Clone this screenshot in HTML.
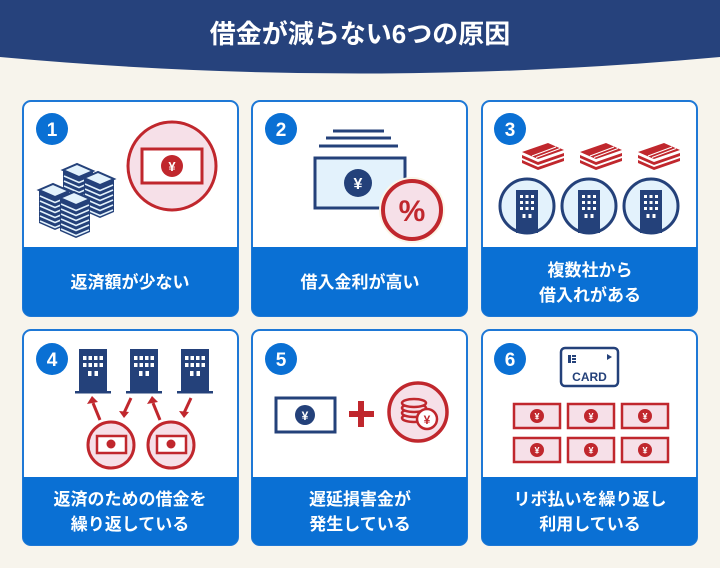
<!DOCTYPE html>
<html><head><meta charset="utf-8"><style>
html,body{margin:0;padding:0;background:#f7f4ec;}
svg{display:block}
text{font-family:"Liberation Sans","Noto Sans CJK JP",sans-serif;font-weight:bold}
</style></head><body>
<svg width="720" height="568" viewBox="0 0 720 568" xmlns="http://www.w3.org/2000/svg">
<defs>
<g id="bld"><rect x="-14" y="-22" width="28" height="43" fill="#24417a"/><rect x="-18" y="20" width="36" height="2.5" fill="#24417a"/>
<g fill="#fff"><rect x="-10" y="-15" width="3.5" height="4"/><rect x="-4.5" y="-15" width="3.5" height="4"/><rect x="1" y="-15" width="3.5" height="4"/><rect x="6.5" y="-15" width="3.5" height="4"/>
<rect x="-10" y="-8" width="3.5" height="4"/><rect x="-4.5" y="-8" width="3.5" height="4"/><rect x="1" y="-8" width="3.5" height="4"/><rect x="6.5" y="-8" width="3.5" height="4"/>
<rect x="-5" y="0" width="3.5" height="5"/><rect x="1.5" y="0" width="3.5" height="5"/></g></g>
<g id="bundle"><g fill="#c0272d"><path d="M-20 -2 L6 -11 L22 -4 L-4 5 Z"/><path d="M-20 1 L-4 8 L22 -1 L22 2 L-4 11 L-20 4Z"/><path d="M-20 6 L-4 13 L22 4 L22 7 L-4 16 L-20 9Z"/></g><path d="M-10 2 L14 -7 M-6 3.5 L18 -5.5" stroke="#fff" stroke-width="1"/></g>
<g id="ybill"><rect x="-23" y="-12" width="46" height="24" fill="#f6e0e8" stroke="#c0272d" stroke-width="2.5"/><circle r="7" fill="#c0272d"/><text y="3.5" font-size="9" fill="#fff" text-anchor="middle">¥</text></g>
<g id="pile">
<path d="M0 0 L16 7 L16 40 L0 33Z" fill="#24417a"/><path d="M16 7 L30 1 L30 34 L16 40Z" fill="#24417a"/>
<path d="M0 0 L14 -6 L30 1 L16 7Z" fill="#e3f2fc" stroke="#24417a" stroke-width="2"/>
<path d="M1 6 L16 12.5 L29 7 M1 11 L16 17.5 L29 12 M1 16 L16 22.5 L29 17 M1 21 L16 27.5 L29 22 M1 26 L16 32.5 L29 27 M1 31 L16 37.5 L29 32" stroke="#e3f2fc" stroke-width="1.5" fill="none"/>
</g>
</defs>
<path d="M0 0 H720 V57 Q360 90 0 57 Z" fill="#26427c"/>
<text x="360" y="43" font-size="26" fill="#fff" text-anchor="middle">借金が減らない6つの原因</text>

<g stroke="#1e78d6" stroke-width="2">
<rect x="23" y="101" width="215" height="215" rx="8" fill="#fff"/>
<rect x="252" y="101" width="215" height="215" rx="8" fill="#fff"/>
<rect x="482" y="101" width="215" height="215" rx="8" fill="#fff"/>
<rect x="23" y="330" width="215" height="215" rx="8" fill="#fff"/>
<rect x="252" y="330" width="215" height="215" rx="8" fill="#fff"/>
<rect x="482" y="330" width="215" height="215" rx="8" fill="#fff"/>
</g>
<g fill="#0a70d4">
<path d="M23 247 H238 V308 a8 8 0 0 1 -8 8 H31 a8 8 0 0 1 -8 -8Z"/>
<path d="M252 247 H467 V308 a8 8 0 0 1 -8 8 H260 a8 8 0 0 1 -8 -8Z"/>
<path d="M482 247 H697 V308 a8 8 0 0 1 -8 8 H490 a8 8 0 0 1 -8 -8Z"/>
<path d="M23 477 H238 V537 a8 8 0 0 1 -8 8 H31 a8 8 0 0 1 -8 -8Z"/>
<path d="M252 477 H467 V537 a8 8 0 0 1 -8 8 H260 a8 8 0 0 1 -8 -8Z"/>
<path d="M482 477 H697 V537 a8 8 0 0 1 -8 8 H490 a8 8 0 0 1 -8 -8Z"/>
<circle cx="52" cy="129" r="16"/><circle cx="281" cy="129" r="16"/><circle cx="510" cy="129" r="16"/>
<circle cx="52" cy="359" r="16"/><circle cx="281" cy="359" r="16"/><circle cx="510" cy="359" r="16"/>
</g>
<g fill="#fff" font-size="19" text-anchor="middle">
<text x="52" y="136">1</text><text x="281" y="136">2</text><text x="510" y="136">3</text>
<text x="52" y="366">4</text><text x="281" y="366">5</text><text x="510" y="366">6</text>
</g>
<g fill="#fff" font-size="17" text-anchor="middle">
<text x="130" y="288">返済額が少ない</text>
<text x="360" y="288">借入金利が高い</text>
<text x="590" y="276">複数社から</text><text x="590" y="301">借入れがある</text>
<text x="130" y="505">返済のための借金を</text><text x="130" y="530">繰り返している</text>
<text x="360" y="505">遅延損害金が</text><text x="360" y="530">発生している</text>
<text x="590" y="505">リボ払いを繰り返し</text><text x="590" y="530">利用している</text>
</g>

<!-- card1 -->
<use href="#pile" x="63" y="170"/><use href="#pile" x="84" y="178"/>
<use href="#pile" x="39" y="190"/><use href="#pile" x="60" y="198"/>
<circle cx="172" cy="166" r="44" fill="#f6e0e8" stroke="#c0272d" stroke-width="3"/>
<rect x="142" y="149" width="60" height="34" fill="#fff" stroke="#c0272d" stroke-width="3"/>
<circle cx="172" cy="166" r="11" fill="#c0272d"/><text x="172" y="171" font-size="13" fill="#fff" text-anchor="middle">¥</text>

<!-- card2 -->
<path d="M333 131 H384 M326 138 H391 M319 146 H398" stroke="#24417a" stroke-width="3"/>
<rect x="315" y="158" width="90" height="50" fill="#e3f2fc" stroke="#24417a" stroke-width="3"/>
<circle cx="358" cy="183" r="14" fill="#24417a"/><text x="358" y="189" font-size="16" fill="#fff" text-anchor="middle">¥</text>
<circle cx="412" cy="210" r="33" fill="#fbf6e8"/>
<circle cx="412" cy="210" r="29" fill="#f6e0e8" stroke="#c0272d" stroke-width="4"/>
<text x="412" y="221" font-size="30" fill="#c0272d" text-anchor="middle">%</text>

<!-- card3 -->
<use href="#bundle" x="542" y="154"/><use href="#bundle" x="600" y="154"/><use href="#bundle" x="658" y="154"/>
<g fill="#e3f2fc" stroke="#24417a" stroke-width="3">
<circle cx="527" cy="206" r="27"/><circle cx="589" cy="206" r="27"/><circle cx="651" cy="206" r="27"/></g>
<g fill="#24417a">
<path d="M516 190 H538 V233 H516Z"/><path d="M578 190 H600 V233 H578Z"/><path d="M640 190 H662 V233 H640Z"/></g>
<g fill="#fff">
<g id="w3"><rect x="520" y="195" width="3" height="3"/><rect x="525.5" y="195" width="3" height="3"/><rect x="531" y="195" width="3" height="3"/><rect x="520" y="201" width="3" height="3"/><rect x="525.5" y="201" width="3" height="3"/><rect x="531" y="201" width="3" height="3"/><rect x="520" y="207" width="3" height="3"/><rect x="525.5" y="207" width="3" height="3"/><rect x="531" y="207" width="3" height="3"/><rect x="522.5" y="214" width="3" height="4"/><rect x="528.5" y="214" width="3" height="4"/></g>
<use href="#w3" x="62"/><use href="#w3" x="124"/></g>

<!-- card4 -->
<use href="#bld" x="93" y="371"/><use href="#bld" x="144" y="371"/><use href="#bld" x="195" y="371"/>
<g stroke="#c0272d" stroke-width="3" fill="none">
<path d="M100 420 L93 403"/><path d="M131 398 L124 413"/><path d="M160 420 L153 403"/><path d="M191 398 L184 413"/></g>
<g fill="#c0272d"><path d="M87 404 L92 396 L98 402Z"/><path d="M119 411 L124 418 L129 412Z"/><path d="M147 404 L152 396 L158 402Z"/><path d="M179 411 L184 418 L189 412Z"/></g>
<g fill="#f6e0e8" stroke="#c0272d" stroke-width="3"><circle cx="111" cy="445" r="23"/><circle cx="171" cy="445" r="23"/></g>
<g fill="#fff" stroke="#c0272d" stroke-width="2.5"><rect x="97" y="436" width="29" height="17"/><rect x="157" y="436" width="29" height="17"/></g>
<g fill="#c0272d"><circle cx="111" cy="444" r="4.5"/><circle cx="171" cy="444" r="4.5"/></g>

<!-- card5 -->
<rect x="276" y="398" width="59" height="34" fill="#fff" stroke="#24417a" stroke-width="3"/>
<circle cx="305" cy="415" r="10" fill="#24417a"/><text x="305" y="420" font-size="12" fill="#fff" text-anchor="middle">¥</text>
<path d="M349 414 H374 M361 401 V427" stroke="#c0272d" stroke-width="6"/>
<circle cx="418" cy="412" r="29" fill="#f6e0e8" stroke="#c0272d" stroke-width="3.5"/>
<g fill="#f6e0e8" stroke="#c0272d" stroke-width="2.5">
<ellipse cx="414" cy="418" rx="12" ry="4"/><ellipse cx="414" cy="413" rx="12" ry="4"/><ellipse cx="414" cy="408" rx="12" ry="4"/><ellipse cx="414" cy="403" rx="12" ry="4"/>
<circle cx="427" cy="419" r="10" fill="#fff"/></g>
<text x="427" y="424" font-size="12" fill="#c0272d" text-anchor="middle">¥</text>

<!-- card6 -->
<rect x="561" y="348" width="57" height="38" rx="4" fill="#fff" stroke="#24417a" stroke-width="2.5"/>
<g fill="#24417a"><rect x="568" y="355" width="3" height="8"/><rect x="572" y="355" width="4" height="2"/><rect x="572" y="358" width="4" height="2"/><rect x="572" y="361" width="4" height="2"/><path d="M607 354 L612 357 L607 360Z"/></g>
<text x="589.5" y="381" font-size="12" fill="#24417a" text-anchor="middle">CARD</text>
<use href="#ybill" x="537" y="416"/><use href="#ybill" x="591" y="416"/><use href="#ybill" x="645" y="416"/>
<use href="#ybill" x="537" y="450"/><use href="#ybill" x="591" y="450"/><use href="#ybill" x="645" y="450"/>
</svg>
</body></html>
